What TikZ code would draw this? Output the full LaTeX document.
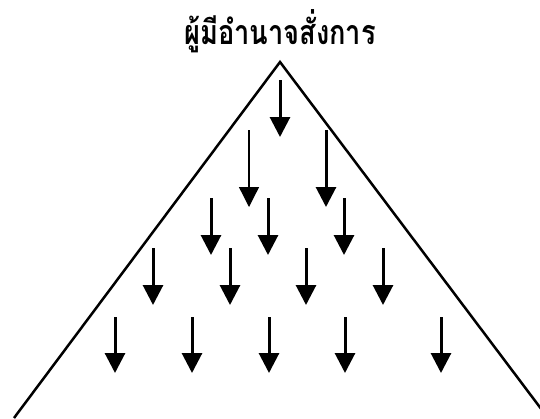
\documentclass[tikz,border=0pt]{standalone}
\usepackage{fontspec}
\newfontfamily\thaifont[Script=Thai]{Loma}
\usetikzlibrary{arrows.meta}
\tikzset{
  down/.style={line width=3pt,-{Triangle[width=20pt,length=20pt]}},
  thindown/.style={line width=1.3pt,-{Triangle[width=20pt,length=20pt]}},
  side/.style={line width=2.5pt,line join=miter}
}
\begin{document}
\begin{tikzpicture}[x=1pt,y=-1pt]
\useasboundingbox (0,0) rectangle (540,418);
\begin{scope}
\clip (0,0) rectangle (540,418);
\coordinate (bl) at (14,418);
\coordinate (apex) at (280,62);
\coordinate (br) at (548,418);
\draw[side] (bl) -- (apex) -- (br);
\end{scope}
\node (title) at (280,31) {\scalebox{0.8}[1]{\thaifont\bfseries\fontsize{34}{40}\selectfont ผู้มีอำนาจสั่งการ}};
% row 0
\coordinate (s00) at (280,80); \coordinate (e00) at (280,137);
\draw[down] (s00) -- (e00);
% row 1
\coordinate (s10) at (249,130); \coordinate (e10) at (249,207);
\coordinate (s11) at (326,130); \coordinate (e11) at (326,207);
\draw[thindown] (s10) -- (e10);
\draw[down] (s11) -- (e11);
% row 2
\foreach \x [count=\i] in {211,268,344}{
  \coordinate (s2\i) at (\x,198); \coordinate (e2\i) at (\x,255);
  \draw[down] (s2\i) -- (e2\i);
}
% row 3
\foreach \x [count=\i] in {153,230,306,383}{
  \coordinate (s3\i) at (\x,248); \coordinate (e3\i) at (\x,305);
  \draw[down] (s3\i) -- (e3\i);
}
% row 4
\foreach \x [count=\i] in {115,192,269,345,441}{
  \coordinate (s4\i) at (\x,317); \coordinate (e4\i) at (\x,373);
  \draw[down] (s4\i) -- (e4\i);
}
\end{tikzpicture}
\end{document}
